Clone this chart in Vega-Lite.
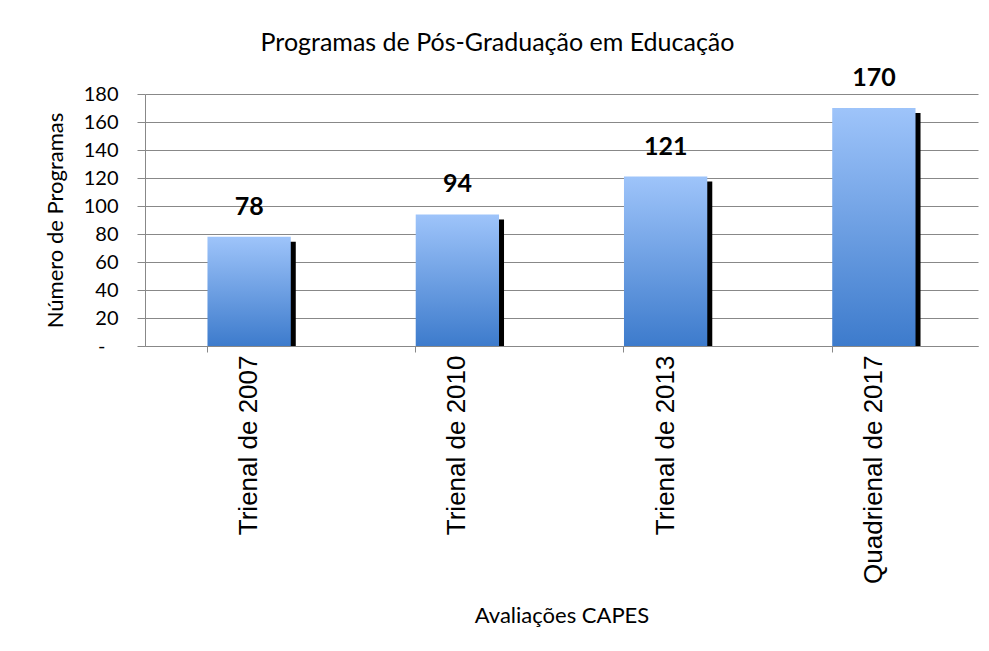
{
  "$schema": "https://vega.github.io/schema/vega-lite/v6.json",
  "autosize": "none",
  "width": 833,
  "height": 252,
  "padding": {"left": 145, "top": 94, "right": 11, "bottom": 305},
  "background": "white",
  "title": {
    "text": "Programas de Pós-Graduação em Educação",
    "font": "Lato",
    "fontSize": 25,
    "fontWeight": "normal",
    "color": "#000000",
    "anchor": "middle",
    "dx": -64,
    "offset": 10
  },
  "data": {
    "values": [
      {"avaliacao": "Trienal de 2007", "programas": 78},
      {"avaliacao": "Trienal de 2010", "programas": 94},
      {"avaliacao": "Trienal de 2013", "programas": 121},
      {"avaliacao": "Quadrienal de 2017", "programas": 170}
    ]
  },
  "encoding": {
    "x": {
      "field": "avaliacao",
      "type": "nominal",
      "sort": null,
      "scale": {"paddingInner": 0.6, "paddingOuter": 0.3},
      "axis": {
        "title": "Avaliações CAPES",
        "titleFont": "Lato",
        "titleFontSize": 22,
        "titleFontWeight": "normal",
        "titleColor": "#000000",
        "titleBaseline": "middle",
        "titleY": 269,
        "labelFont": "Liberation Sans",
        "labelFontSize": 26,
        "labelColor": "#000000",
        "labelAngle": -90,
        "labelPadding": 3,
        "labelLimit": 0,
        "labelOverlap": false,
        "bandPosition": 0,
        "tickSize": 6,
        "tickColor": "#888888",
        "domainColor": "#888888",
        "grid": false
      }
    },
    "y": {
      "field": "programas",
      "type": "quantitative",
      "scale": {"domain": [0, 180], "nice": false},
      "axis": {
        "title": "Número de Programas",
        "titleFont": "Lato",
        "titleFontSize": 22,
        "titleFontWeight": "normal",
        "titleColor": "#000000",
        "titlePadding": 16,
        "values": [0, 20, 40, 60, 80, 100, 120, 140, 160, 180],
        "labelExpr": "datum.value == 0 ? '-' : datum.label",
        "labelFont": "Lato",
        "labelFontSize": 20,
        "labelColor": "#000000",
        "labelPadding": {"condition": {"test": "datum.value === 0", "value": 32}, "value": 19},
        "tickSize": 8,
        "tickColor": "#888888",
        "domainColor": "#888888",
        "grid": true,
        "gridColor": "#888888",
        "gridWidth": 1
      }
    }
  },
  "layer": [
    {
      "mark": {"type": "bar", "color": "#000000", "xOffset": 5, "yOffset": 5, "clip": true}
    },
    {
      "mark": {
        "type": "bar",
        "color": {
          "gradient": "linear",
          "x1": 0, "y1": 0, "x2": 0, "y2": 1,
          "stops": [
            {"offset": 0, "color": "#9EC4FA"},
            {"offset": 1, "color": "#3D7BCC"}
          ]
        }
      }
    },
    {
      "mark": {
        "type": "text",
        "font": "Lato",
        "fontSize": 25,
        "fontWeight": "bold",
        "color": "#000000",
        "baseline": "bottom",
        "dy": -17
      },
      "encoding": {"text": {"field": "programas", "type": "quantitative"}}
    }
  ],
  "config": {"view": {"stroke": null}}
}
